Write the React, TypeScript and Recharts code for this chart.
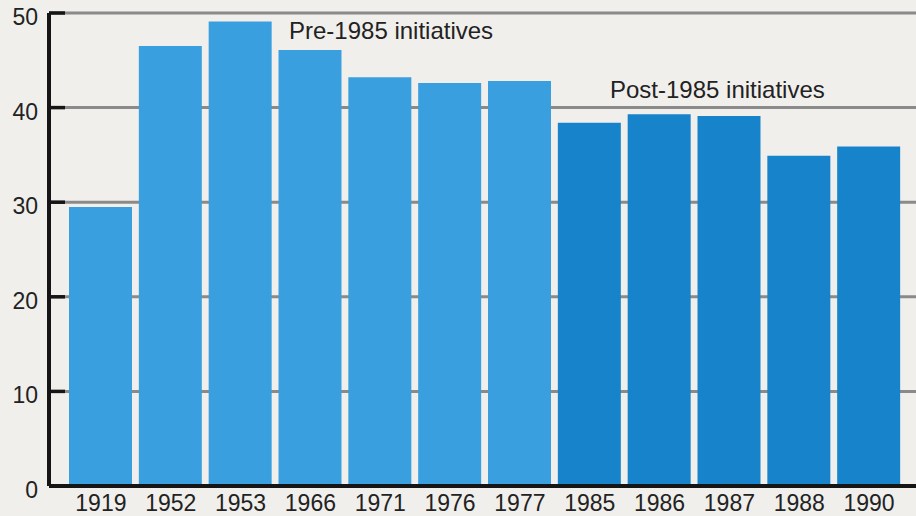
import { BarChart, Bar, XAxis, YAxis, CartesianGrid, Cell } from 'recharts';

const years = ['1919', '1952', '1953', '1966', '1971', '1976', '1977', '1985', '1986', '1987', '1988', '1990'];
const values = [29.5, 46.5, 49.1, 46.1, 43.2, 42.6, 42.8, 38.4, 39.3, 39.1, 34.9, 35.9];
const groups = ['pre', 'pre', 'pre', 'pre', 'pre', 'pre', 'pre', 'post', 'post', 'post', 'post', 'post'];
const yTicks = [0, 10, 20, 30, 40, 50];

const groupColors: Record<string, string> = { pre: '#3a9fdf', post: '#1683cb' };
const font = '"Liberation Sans", Arial, Helvetica, sans-serif';

const data = years.map((year, i) => ({ year, value: values[i], group: groups[i] }));

// y tick: number on the left + short black stub going into the plot
const YTick = (props: any) => {
  const { x, y, payload } = props;
  return (
    <g>
      <line x1={x} x2={x + 16} y1={y} y2={y} stroke="#151515" strokeWidth={3.5} />
      <text x={x - 11} y={y + 12} textAnchor="end" fontSize={23} fill="#222" fontFamily={font}>
        {payload.value}
      </text>
    </g>
  );
};

const labelStyle = {
  position: 'absolute' as const,
  fontFamily: font,
  fontSize: 24,
  lineHeight: 1,
  color: '#222',
  whiteSpace: 'nowrap' as const,
};

export default function App() {
  return (
    <div style={{ position: 'fixed', left: 0, top: 0, width: 916, height: 516, background: '#f1efec' }}>
      <BarChart width={916} height={516} data={data} margin={{ top: 13, right: 0, left: 0, bottom: 0 }}>
        <CartesianGrid vertical={false} stroke="#8a8a8a" strokeWidth={3} />
        <XAxis
          dataKey="year"
          padding={{ left: 17, right: 12 }}
          axisLine={{ stroke: '#151515', strokeWidth: 4 }}
          tickLine={false}
          tickSize={0}
          tickMargin={9}
          interval={0}
          height={30}
          tick={{ fontSize: 23, fill: '#222', fontFamily: font }}
        />
        <YAxis
          domain={[0, 50]}
          ticks={yTicks}
          width={49}
          axisLine={{ stroke: '#151515', strokeWidth: 4 }}
          tickLine={false}
          tickSize={0}
          tickMargin={0}
          tick={<YTick />}
        />
        <Bar dataKey="value" barSize={63} isAnimationActive={false}>
          {data.map((d) => (
            <Cell key={d.year} fill={groupColors[d.group]} />
          ))}
        </Bar>
      </BarChart>
      <div style={{ ...labelStyle, left: 289, top: 19 }}>Pre-1985 initiatives</div>
      <div style={{ ...labelStyle, left: 610, top: 78 }}>Post-1985 initiatives</div>
    </div>
  );
}
